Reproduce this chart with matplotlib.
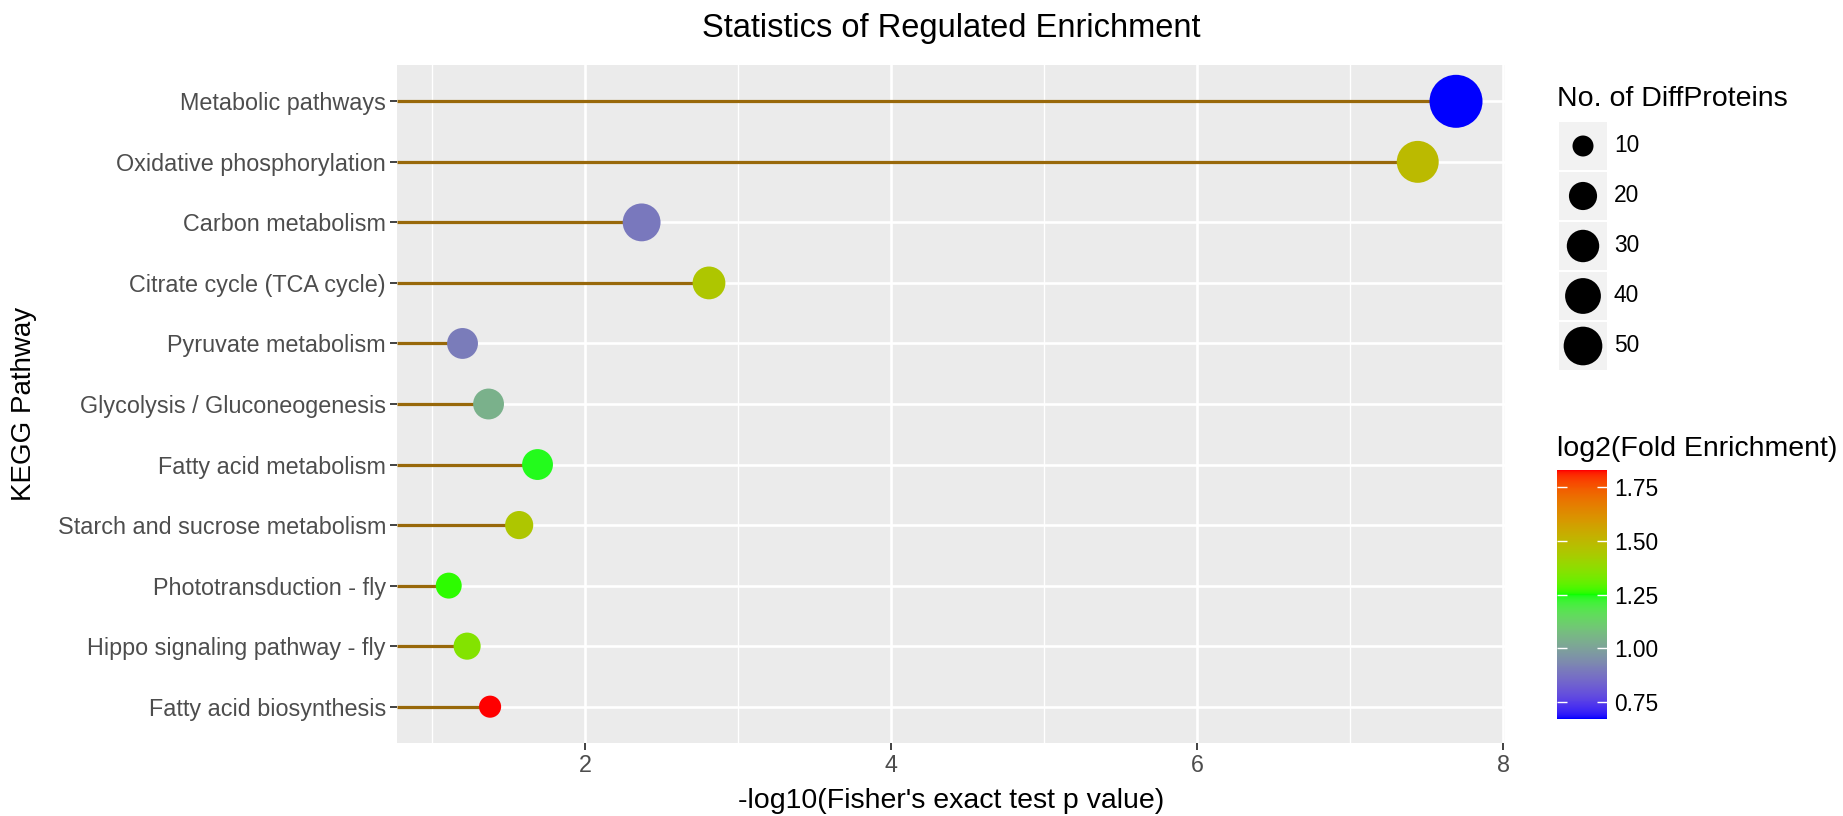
import numpy as np
import matplotlib
matplotlib.use("Agg")
import matplotlib.pyplot as plt
from matplotlib.colors import ListedColormap, Normalize
from matplotlib.cm import ScalarMappable

plt.rcParams["font.family"] = ["Liberation Sans", "DejaVu Sans"]

# ---- data -------------------------------------------------------------
pathways = [
    "Metabolic pathways",
    "Oxidative phosphorylation",
    "Carbon metabolism",
    "Citrate cycle (TCA cycle)",
    "Pyruvate metabolism",
    "Glycolysis / Gluconeogenesis",
    "Fatty acid metabolism",
    "Starch and sucrose metabolism",
    "Phototransduction - fly",
    "Hippo signaling pathway - fly",
    "Fatty acid biosynthesis",
]
neg_log10_p = [7.69, 7.44, 2.37, 2.81, 1.20, 1.37, 1.69, 1.57, 1.11, 1.23, 1.38]
log2_fold = [0.671, 1.49, 0.89, 1.45, 0.90, 1.04, 1.24, 1.45, 1.26, 1.35, 1.829]
n_proteins = [120, 63, 47, 31, 26, 26, 26, 20, 16, 18, 11]

size_breaks = [10, 20, 30, 40, 50]
colour_breaks = [0.75, 1.00, 1.25, 1.50, 1.75]

# ---- helpers ----------------------------------------------------------
DPI = 100
W, H = 1843, 816


def px_rect(x0, y0, x1, y1):
    """Figure-fraction rectangle from pixel box (origin top-left)."""
    return [x0 / W, 1 - y1 / H, (x1 - x0) / W, (y1 - y0) / H]


def srgb_to_lab(rgb):
    rgb = np.asarray(rgb, float)
    lin = np.where(rgb <= 0.04045, rgb / 12.92, ((rgb + 0.055) / 1.055) ** 2.4)
    M = np.array([[0.4124, 0.3576, 0.1805],
                  [0.2126, 0.7152, 0.0722],
                  [0.0193, 0.1192, 0.9505]])
    xyz = lin @ M.T / np.array([0.95047, 1.0, 1.08883])
    f = np.where(xyz > 0.008856, np.cbrt(xyz), 7.787 * xyz + 16 / 116)
    L = 116 * f[..., 1] - 16
    a = 500 * (f[..., 0] - f[..., 1])
    b = 200 * (f[..., 1] - f[..., 2])
    return np.stack([L, a, b], -1)


def lab_to_srgb(lab):
    lab = np.asarray(lab, float)
    fy = (lab[..., 0] + 16) / 116
    fx = fy + lab[..., 1] / 500
    fz = fy - lab[..., 2] / 200
    f = np.stack([fx, fy, fz], -1)
    xyz = np.where(f > 0.2069, f ** 3, (f - 16 / 116) / 7.787)
    xyz = xyz * np.array([0.95047, 1.0, 1.08883])
    Minv = np.array([[3.2406, -1.5372, -0.4986],
                     [-0.9689, 1.8758, 0.0415],
                     [0.0557, -0.2040, 1.0570]])
    lin = np.clip(xyz @ Minv.T, 0, 1)
    rgb = np.where(lin <= 0.0031308, 12.92 * lin, 1.055 * lin ** (1 / 2.4) - 0.055)
    return np.clip(rgb, 0, 1)


def lab_ramp(colours, n=256):
    labs = srgb_to_lab(np.array(colours, float))
    t = np.linspace(0, 1, n)
    seg = len(colours) - 1
    idx = np.minimum((t * seg).astype(int), seg - 1)
    frac = t * seg - idx
    lab = labs[idx] * (1 - frac)[:, None] + labs[idx + 1] * frac[:, None]
    return ListedColormap(lab_to_srgb(lab))


cmap = lab_ramp([(0, 0, 1), (0, 1, 0), (1, 0, 0)])
norm = Normalize(vmin=min(log2_fold), vmax=max(log2_fold))


def point_area(n):
    """Marker area (pt^2) from protein count: diameter grows with sqrt(count)."""
    d_px = 16.06 + 3.49 * np.sqrt(np.asarray(n, float) - 8)
    return (d_px * 72 / DPI) ** 2


# ---- figure -----------------------------------------------------------
fig = plt.figure(figsize=(W / DPI, H / DPI), dpi=DPI)
ax = fig.add_axes(px_rect(397, 65, 1505, 743))
ax.set_facecolor("#EBEBEB")
for s in ax.spines.values():
    s.set_visible(False)

ypos = np.arange(len(pathways))[::-1] + 1
xmin, xmax = 0.772, 8.01
ax.set_xlim(xmin, xmax)
ax.set_ylim(0.4, len(pathways) + 0.6)

ax.set_xticks([2, 4, 6, 8])
ax.set_xticks([1, 3, 5, 7], minor=True)
ax.set_yticks(ypos)
ax.set_yticklabels(pathways)
ax.grid(which="major", color="white", linewidth=1.9)
ax.grid(which="minor", axis="x", color="white", linewidth=1.0)
ax.set_axisbelow(True)
ax.tick_params(axis="both", which="major", length=5, width=1.3, color="#333333",
               labelsize=16.8, labelcolor="#4D4D4D", pad=3)
ax.tick_params(axis="both", which="minor", length=0)

ax.hlines(ypos, xmin, neg_log10_p, color="#98680A", linewidth=2.3, zorder=2)
ax.scatter(neg_log10_p, ypos, s=point_area(n_proteins), c=log2_fold,
           cmap=cmap, norm=norm, linewidths=0, zorder=3)

ax.set_xlabel("-log10(Fisher's exact test p value)", fontsize=20.5, va="center")
ax.xaxis.set_label_coords(0.5, (743 - 801) / 678)
ax.set_ylabel("KEGG Pathway", fontsize=20, va="center")
ax.yaxis.set_label_coords((24 - 397) / 1108, 0.5)
fig.text(951 / W, 1 - 28 / H, "Statistics of Regulated Enrichment",
         ha="center", va="center", fontsize=23.5)

# ---- size legend ------------------------------------------------------
fig.text(1557 / W, 1 - 99 / H, "No. of DiffProteins", ha="left", va="center",
         fontsize=20.5)
lax = fig.add_axes(px_rect(1555, 118, 1843, 372))
lax.set_xlim(1555, 1843)
lax.set_ylim(372, 118)
lax.axis("off")
key_y = 146 + 50 * np.arange(len(size_breaks))
for ky, lab in zip(key_y, size_breaks):
    lax.add_patch(plt.Rectangle((1559, ky - 24), 48, 48, color="#F2F2F2", lw=0))
    lax.text(1614, ky, str(lab), ha="left", va="center", fontsize=16.4)
lax.scatter(np.full(len(size_breaks), 1583), key_y, s=point_area(size_breaks),
            color="black", linewidths=0, zorder=3)

# ---- colour legend ----------------------------------------------------
fig.text(1557 / W, 1 - 449 / H, "log2(Fold Enrichment)", ha="left", va="center",
         fontsize=20.5)
cax = fig.add_axes(px_rect(1557, 470, 1607, 719))
cb = fig.colorbar(ScalarMappable(norm=norm, cmap=cmap), cax=cax)
cb.outline.set_visible(False)
cb.set_ticks(colour_breaks)
cb.set_ticklabels([f"{v:.2f}" for v in colour_breaks])
cax.tick_params(left=True, right=True, labelleft=False, labelright=True,
                direction="in", color="white", length=7.5, width=1.0,
                labelsize=16.4, labelcolor="black", pad=5)

fig.savefig("out.png", dpi=DPI, facecolor="white")
